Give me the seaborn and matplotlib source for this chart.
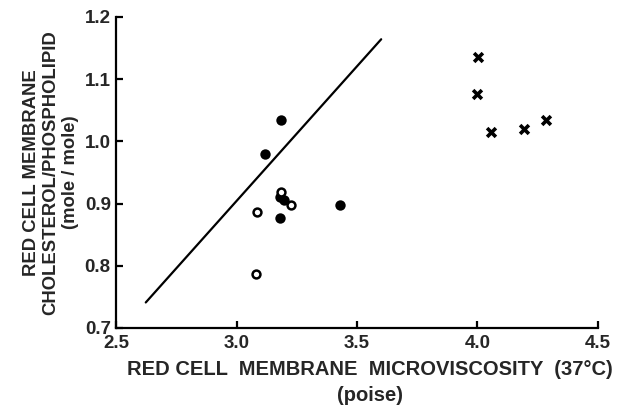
import seaborn as sns
import matplotlib.pyplot as plt
import pandas as pd

# filled circles
filled_x = [3.185, 3.117, 3.178, 3.196, 3.430, 3.180]
filled_y = [1.034, 0.980, 0.910, 0.906, 0.898, 0.877]

# open circles
open_x = [3.183, 3.224, 3.086, 3.079]
open_y = [0.918, 0.897, 0.886, 0.787]

# crosses
cross_x = [4.001, 3.997, 4.057, 4.195, 4.286]
cross_y = [1.136, 1.076, 1.015, 1.019, 1.035]

# regression line end points
line_x = [2.622, 3.600]
line_y = [0.741, 1.164]

x_ticks = [2.5, 3.0, 3.5, 4.0, 4.5]
y_ticks = [0.7, 0.8, 0.9, 1.0, 1.1, 1.2]


def run():
	sns.set_style("ticks")
	plt.rcParams['font.family'] = ['Liberation Sans', 'DejaVu Sans']
	plt.rcParams['font.weight'] = 'bold'

	fig = plt.figure(figsize=(6.36, 4.11), dpi=100)
	ax = fig.add_axes([0.183, 0.202, 0.757, 0.757])

	filled = pd.DataFrame({"x": filled_x, "y": filled_y})
	opened = pd.DataFrame({"x": open_x, "y": open_y})
	cross = pd.DataFrame({"x": cross_x, "y": cross_y})
	line = pd.DataFrame({"x": line_x, "y": line_y})

	sns.lineplot(data=line, x="x", y="y", color="black", linewidth=1.6, ax=ax)
	sns.scatterplot(data=filled, x="x", y="y", color="black", s=56, edgecolor="black", linewidth=0, ax=ax)
	sns.scatterplot(data=opened, x="x", y="y", facecolor="white", edgecolor="black", s=32, linewidth=1.8,
	                ax=ax)
	sns.scatterplot(data=cross, x="x", y="y", marker="x", color="black", s=40, linewidth=2.6, ax=ax)

	ax.set_xlim(2.5, 4.5)
	ax.set_ylim(0.7, 1.2)
	ax.set_xticks(x_ticks)
	ax.set_yticks(y_ticks)
	ax.set_xticklabels([str(i) for i in x_ticks], fontsize=13.5, fontweight='bold')
	ax.set_yticklabels(["%.1f" % i for i in y_ticks], fontsize=13.5, fontweight='bold')
	ax.tick_params(direction='in', length=5, width=1.6, color='black', pad=5)
	ax.tick_params(axis='y', pad=4)
	sns.despine(ax=ax)
	for side in ["left", "bottom"]:
		ax.spines[side].set_linewidth(1.6)
		ax.spines[side].set_color("black")

	ax.set_xlabel("RED CELL  MEMBRANE  MICROVISCOSITY  (37°C)\n(poise)", fontsize=14.5,
	              fontweight='bold', linespacing=1.45, labelpad=6)
	# the label sits a little right of the axis centre in the original
	ax.xaxis.label.set_x(0.527)
	ax.set_ylabel("RED CELL MEMBRANE\nCHOLESTEROL/PHOSPHOLIPID\n(mole / mole)", fontsize=13.3,
	              fontweight='bold', linespacing=1.2, labelpad=4)

	fig.savefig("out.png", dpi=100, facecolor="white")


if __name__ == '__main__':
	run()
